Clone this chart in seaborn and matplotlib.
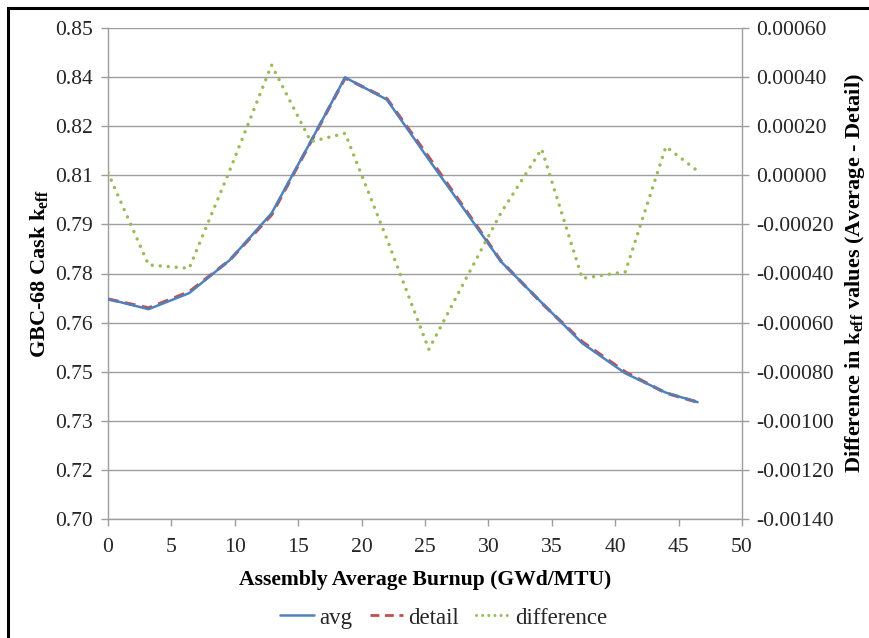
import matplotlib
matplotlib.use("Agg")
import matplotlib.pyplot as plt
from matplotlib.patches import Rectangle
from matplotlib.lines import Line2D
import seaborn as sns
import pandas as pd

# Burnup steps (GWd/MTU)
burnup = [0.0, 3.2, 6.4, 9.6, 12.9, 16.0, 18.7, 22.0, 25.3, 28.2, 31.0, 34.2, 37.4, 40.8, 44.0, 46.5]
# Cask k_eff with assembly-averaged compositions
k_avg = [0.7672, 0.7641, 0.7690, 0.7791, 0.7934, 0.8154, 0.8349, 0.8281,
         0.8098, 0.7940, 0.7786, 0.7661, 0.7537, 0.7445, 0.7386, 0.7357]
# Difference in k_eff (average - detail)
k_diff = [0.00001, -0.000365, -0.000379, 0.00002, 0.000449, 0.000137, 0.000171, -0.00026,
          -0.000709, -0.000424, -0.000152, 0.000107, -0.00042, -0.000393, 0.000117, 0.0000175]
# Cask k_eff with detailed compositions
k_detail = [a - d for a, d in zip(k_avg, k_diff)]

x_ticks = [0, 5, 10, 15, 20, 25, 30, 35, 40, 45, 50]
left_ticks = [0.70, 0.715, 0.73, 0.745, 0.76, 0.775, 0.79, 0.805, 0.82, 0.835, 0.85]
left_labels = ["0.70", "0.72", "0.73", "0.75", "0.76", "0.78", "0.79", "0.81", "0.82", "0.84", "0.85"]
right_ticks = [-0.0014, -0.0012, -0.0010, -0.0008, -0.0006, -0.0004, -0.0002, 0.0, 0.0002, 0.0004, 0.0006]
right_labels = ["-0.00140", "-0.00120", "-0.00100", "-0.00080", "-0.00060", "-0.00040",
                "-0.00020", "0.00000", "0.00020", "0.00040", "0.00060"]

df = pd.DataFrame({"burnup": burnup, "avg": k_avg, "detail": k_detail, "difference": k_diff})

sns.set_style("white")
plt.rcParams["font.family"] = ["Liberation Serif", "DejaVu Serif"]
plt.rcParams["mathtext.fontset"] = "custom"
plt.rcParams["mathtext.rm"] = "Liberation Serif"
plt.rcParams["mathtext.bf"] = "Liberation Serif:bold"

BLUE = "#4F81BD"
RED = "#C0504D"
GREEN = "#9BBB59"
GRID = "#9E9E9E"
TXT = "#262626"

DASH = (0, (3.2, 2.0))
DOTS = (0, (0.01, 2.3))

fig = plt.figure(figsize=(8.7, 6.38), dpi=100)
ax = fig.add_axes([108 / 870, 1 - 519 / 638, (742 - 108) / 870, (519 - 28) / 638])
ax2 = ax.twinx()

sns.lineplot(data=df, x="burnup", y="detail", ax=ax, color=RED, lw=2.4,
             linestyle=DASH, zorder=3)
sns.lineplot(data=df, x="burnup", y="avg", ax=ax, color=BLUE, lw=1.8, zorder=4)
sns.lineplot(data=df, x="burnup", y="difference", ax=ax2, color=GREEN, lw=2.5,
             linestyle=DOTS, dash_capstyle="round", zorder=5)

ax.set_xlim(0, 50)
ax.set_ylim(0.70, 0.85)
ax2.set_ylim(-0.0014, 0.0006)

ax.set_xticks(x_ticks)
ax.set_xticklabels([str(t) for t in x_ticks])
ax.set_yticks(left_ticks)
ax.set_yticklabels(left_labels)
ax2.set_yticks(right_ticks)
ax2.set_yticklabels(right_labels)

ax.grid(axis="y", color=GRID, lw=1.0)
ax.grid(axis="x", visible=False)
ax2.grid(False)

for a in (ax, ax2):
    for s in a.spines.values():
        s.set_visible(False)
ax.spines["left"].set_visible(True)
ax.spines["bottom"].set_visible(True)
ax2.spines["right"].set_visible(True)
for s in (ax.spines["left"], ax.spines["bottom"], ax2.spines["right"]):
    s.set_color(GRID)
    s.set_linewidth(1.0)

ax.tick_params(axis="x", direction="out", length=5, width=1, color=GRID, pad=9,
               labelsize=15.6, labelcolor=TXT, bottom=True)
ax.tick_params(axis="y", direction="out", length=5, width=1, color=GRID, pad=6,
               labelsize=15.6, labelcolor=TXT, left=True)
ax2.tick_params(axis="y", direction="out", length=5, width=1, color=GRID, pad=5,
                labelsize=15.6, labelcolor=TXT, right=True)

ax.set_xlabel("Assembly Average Burnup (GWd/MTU)", fontsize=15.6, fontweight="bold",
              color="black", labelpad=9)
ax.set_ylabel(r"GBC-68 Cask k$_{\mathbf{eff}}$", fontsize=16, fontweight="bold",
              color="black", labelpad=3)
ax2.set_ylabel(r"Difference in k$_{\mathbf{eff}}$ values (Average - Detail)", fontsize=16,
               fontweight="bold", color="black", rotation=90, labelpad=7)

handles = [
    Line2D([], [], color=BLUE, lw=1.8),
    Line2D([], [], color=RED, lw=2.0, linestyle=DASH),
    Line2D([], [], color=GREEN, lw=2.2, linestyle=(0, (0.01, 2.0)), dash_capstyle="round"),
]
fig.legend(handles, ["avg", "detail", "difference"], loc="center",
           bbox_to_anchor=(444 / 870, 1 - 618 / 638), ncol=3, frameon=False,
           fontsize=16.5, handlelength=1.45, handletextpad=0.25, columnspacing=0.75,
           labelcolor=TXT)

# outer chart frame
fig.add_artist(Rectangle((8 / 870, -0.2), 1.2, 1.2 - 8 / 638, transform=fig.transFigure,
                         fill=False, edgecolor="black", lw=2.2, clip_on=False))

fig.savefig("out.png", dpi=100, facecolor="white")
